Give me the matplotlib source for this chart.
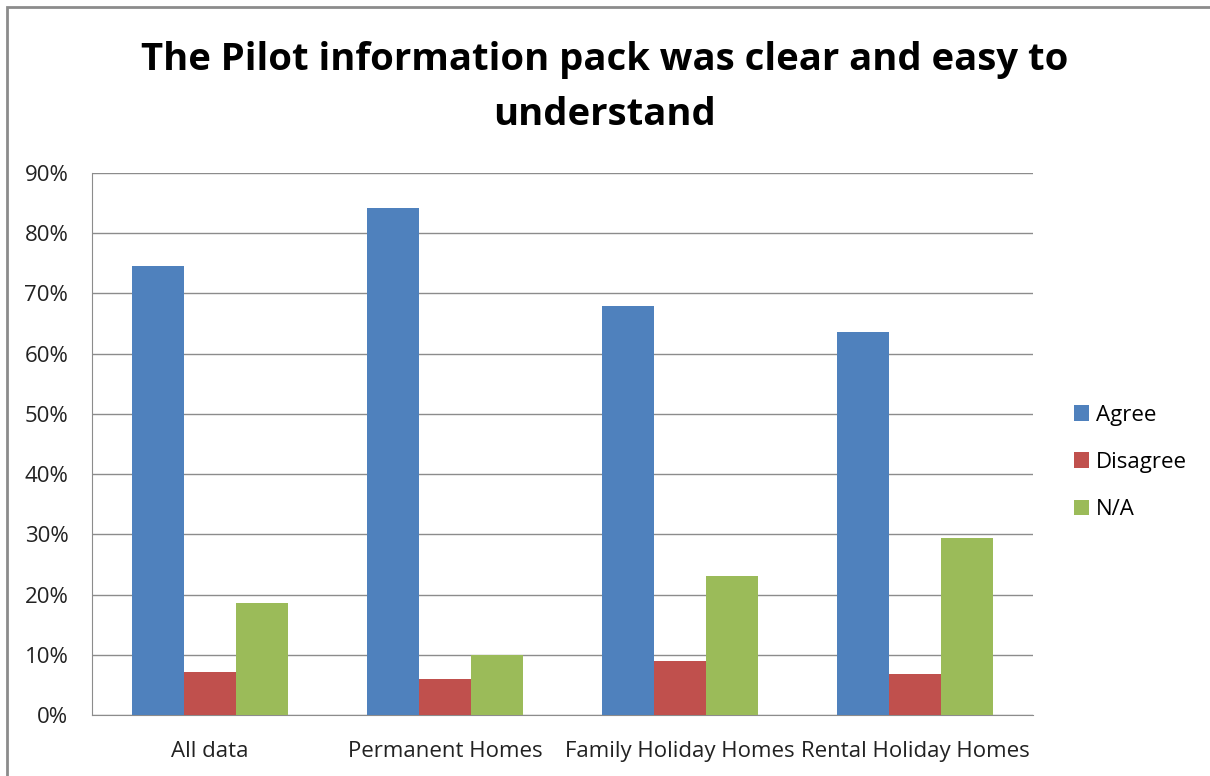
import matplotlib.pyplot as plt
import numpy as np
from matplotlib.patches import Rectangle

plt.rcParams['font.family'] = ['Open Sans', 'DejaVu Sans']

categories = ['All data', 'Permanent Homes', 'Family Holiday Homes', 'Rental Holiday Homes']
series = ['Agree', 'Disagree', 'N/A']
agree = [74.6, 84.2, 67.9, 63.6]
disagree = [7.1, 6.0, 9.0, 6.8]
na = [18.6, 10.0, 23.1, 29.4]
colors = ['#4F81BD', '#C0504D', '#9BBB59']

fig = plt.figure(figsize=(12.1, 7.76), dpi=100)
ax = fig.add_axes([0.076, 0.0786, 0.7777, 0.6984])

x = np.arange(len(categories))
w = 0.221
for i, (vals, name) in enumerate(zip([agree, disagree, na], series)):
    ax.bar(x + (i - 1) * w, vals, w, color=colors[i], label=name, zorder=3)

ax.set_xlim(-0.5, 3.5)
ax.set_ylim(0, 90)
ax.set_yticks(range(0, 91, 10))
ax.set_yticklabels([f'{v}%' for v in range(0, 91, 10)], fontsize=16, color='#222222')
ax.set_xticks(x)
ax.set_xticklabels(categories, fontsize=16, color='#222222')
ax.tick_params(axis='y', length=0, pad=17)
ax.tick_params(axis='x', length=0, pad=19)
ax.grid(axis='y', color='#8c8c8c', linewidth=1, zorder=0)
for s in ['top', 'right']:
    ax.spines[s].set_visible(False)
for s in ['left', 'bottom']:
    ax.spines[s].set_color('#8c8c8c')

fig.text(0.5, 0.887, 'The Pilot information pack was clear and easy to\nunderstand',
         ha='center', va='center', fontsize=27.5, fontweight='bold', linespacing=1.58)

leg = fig.legend(loc='center left', bbox_to_anchor=(0.871, 0.404), frameon=False,
                 fontsize=16, handlelength=0.7, handleheight=0.7, handletextpad=0.3,
                 labelspacing=1.18)

fig.patches.append(Rectangle((7 / 1210, -0.01), 1.02, 1 - 7 / 776 + 0.01,
                             transform=fig.transFigure, fill=False,
                             edgecolor='#8c8c8c', linewidth=2))

fig.savefig('out.png', dpi=100)
